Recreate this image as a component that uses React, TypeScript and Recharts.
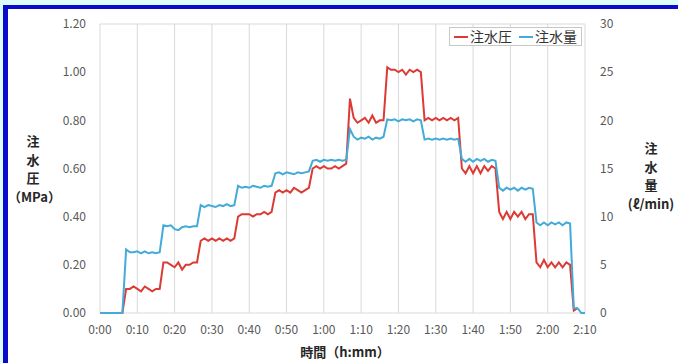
import React from "react";
import { LineChart, Line, XAxis, YAxis, CartesianGrid } from "recharts";

// Injection pressure (MPa), one value per minute from 0:00 to 2:10
const pressure: (number | null)[] = [
  0, 0, 0, 0, 0, 0, 0, 0.10, 0.10, 0.11,
  0.10, 0.09, 0.11, 0.10, 0.09, 0.10, 0.10, 0.21, 0.21, 0.20,
  0.19, 0.21, 0.18, 0.20, 0.20, 0.21, 0.21, 0.30, 0.31, 0.30,
  0.31, 0.30, 0.31, 0.30, 0.31, 0.30, 0.31, 0.40, 0.41, 0.41,
  0.41, 0.40, 0.41, 0.41, 0.42, 0.41, 0.42, 0.50, 0.51, 0.50,
  0.51, 0.50, 0.52, 0.51, 0.50, 0.51, 0.52, 0.60, 0.61, 0.60,
  0.61, 0.60, 0.60, 0.61, 0.60, 0.61, 0.62, 0.89, 0.81, 0.79,
  0.80, 0.81, 0.79, 0.82, 0.79, 0.80, 0.80, 1.02, 1.01, 1.01,
  1.00, 1.01, 0.99, 1.01, 1.00, 1.01, 1.00, 0.80, 0.81, 0.80,
  0.81, 0.80, 0.81, 0.80, 0.81, 0.80, 0.81, 0.60, 0.58, 0.61,
  0.58, 0.61, 0.58, 0.61, 0.59, 0.61, 0.60, 0.42, 0.39, 0.42,
  0.39, 0.42, 0.40, 0.42, 0.39, 0.41, 0.41, 0.21, 0.19, 0.22,
  0.19, 0.21, 0.19, 0.21, 0.19, 0.21, 0.20, 0.01, 0.02, null,
  null,
];

// Injection flow (l/min), one value per minute from 0:00 to 2:10
const flow: number[] = [
  0, 0, 0, 0, 0, 0, 0, 6.6, 6.3, 6.3,
  6.4, 6.2, 6.4, 6.2, 6.3, 6.2, 6.3, 9.1, 9.0, 9.1,
  8.7, 8.6, 8.9, 9.0, 8.9, 9.0, 9.0, 11.2, 11.0, 11.2,
  11.1, 11.0, 11.2, 11.1, 11.3, 11.1, 11.2, 13.2, 13.0, 13.1,
  13.0, 13.2, 13.1, 13.0, 13.2, 13.1, 13.2, 14.5, 14.6, 14.4,
  14.6, 14.5, 14.4, 14.6, 14.5, 14.6, 14.7, 15.8, 15.9, 15.7,
  15.9, 15.8, 15.9, 15.8, 15.9, 15.8, 15.9, 19.1, 18.3, 18.0,
  18.2, 18.1, 18.3, 18.0, 18.2, 18.1, 18.3, 20.1, 20.0, 20.1,
  19.9, 20.1, 20.0, 20.1, 19.9, 20.1, 20.0, 18.0, 18.1, 18.0,
  18.1, 18.0, 18.1, 18.0, 18.1, 18.0, 18.1, 16.0, 15.7, 16.0,
  15.7, 16.0, 15.8, 16.0, 15.7, 15.9, 15.8, 13.0, 12.7, 13.0,
  12.8, 13.0, 12.7, 13.0, 12.8, 13.0, 12.9, 9.4, 9.1, 9.4,
  9.1, 9.4, 9.2, 9.4, 9.1, 9.4, 9.3, 0.5, 0.5, 0,
  0,
];

const xTicks = [0, 10, 20, 30, 40, 50, 60, 70, 80, 90, 100, 110, 120, 130];
const leftTicks = [0, 0.2, 0.4, 0.6, 0.8, 1.0, 1.2];
const rightTicks = [0, 5, 10, 15, 20, 25, 30];
const seriesNames = ["注水圧", "注水量"];

const data = flow.map((q, i) => ({ t: i, p: pressure[i], q }));

const RED = "#dc3a35";
const BLUE = "#42abd8";
const FONT = "'Noto Sans CJK JP', 'Noto Sans', sans-serif";
const TICK = { fill: "#595959", fontSize: 12, fontFamily: FONT };

const fmtTime = (m: number) => `${Math.floor(m / 60)}:${String(m % 60).padStart(2, "0")}`;

const LegendBox = () => (
  <div
    style={{
      position: "absolute",
      left: 449,
      top: 27,
      border: "1px solid #c8c8c8",
      background: "#fff",
      padding: "0px 4px",
      display: "flex",
      gap: 7,
      fontFamily: FONT,
      fontSize: 14,
      color: "#333",
      lineHeight: "17px",
      whiteSpace: "nowrap",
    }}
  >
    {[RED, BLUE].map((c, i) => (
      <span key={i} style={{ display: "flex", alignItems: "center" }}>
        <span style={{ display: "inline-block", width: 14, height: 2, background: c, marginRight: 2 }} />
        {seriesNames[i]}
      </span>
    ))}
  </div>
);

const titleStyle: React.CSSProperties = {
  position: "absolute",
  fontFamily: FONT,
  fontSize: 13,
  fontWeight: 700,
  color: "#262626",
  textAlign: "center",
  lineHeight: "18.5px",
};

export default function App() {
  return (
    <div style={{ position: "absolute", left: 0, top: 0, width: 678, height: 363, background: "#dcfcfc", overflow: "hidden" }}>
      <div
        style={{
          position: "absolute",
          left: 3,
          top: 5,
          width: 700,
          height: 400,
          background: "#fff",
          borderTop: "4px solid #0a0acc",
          borderLeft: "5px solid #0a0acc",
        }}
      />
      <div style={{ position: "absolute", left: 0, top: 0 }}>
        <LineChart width={678} height={363} data={data} margin={{ top: 24, right: 0, bottom: 0, left: 0 }}>
          <CartesianGrid stroke="#d9d9d9" strokeWidth={1} />
          <XAxis
            dataKey="t"
            type="number"
            domain={[0, 130]}
            ticks={xTicks}
            tickFormatter={fmtTime}
            axisLine={false}
            tickLine={false}
            tickSize={0}
            tickMargin={12}
            tick={TICK}
            interval={0}
            height={50}
          />
          <YAxis
            yAxisId="l"
            domain={[0, 1.2]}
            ticks={leftTicks}
            tickFormatter={(v: number) => v.toFixed(2)}
            axisLine={false}
            tickLine={false}
            tickSize={0}
            tickMargin={14}
            tick={TICK}
            width={100}
            interval={0}
          />
          <YAxis
            yAxisId="r"
            orientation="right"
            domain={[0, 30]}
            ticks={rightTicks}
            axisLine={false}
            tickLine={false}
            tickSize={0}
            tickMargin={15}
            tick={{ ...TICK, textAnchor: "start" }}
            width={93}
            interval={0}
          />
          <Line yAxisId="l" dataKey="p" name={seriesNames[0]} stroke={RED} strokeWidth={2} dot={false} isAnimationActive={false} connectNulls={false} />
          <Line yAxisId="r" dataKey="q" name={seriesNames[1]} stroke={BLUE} strokeWidth={2} dot={false} isAnimationActive={false} />
        </LineChart>
      </div>
      <LegendBox />
      <div style={{ ...titleStyle, left: 8, top: 132, width: 50 }}>
        注<br />水<br />圧<br />（MPa）
      </div>
      <div style={{ ...titleStyle, left: 622, top: 139, width: 58 }}>
        注<br />水<br />量<br />(ℓ/min)
      </div>
      <div style={{ ...titleStyle, left: 270, top: 343, width: 150, lineHeight: "18px" }}>時間（h:mm）</div>
    </div>
  );
}
